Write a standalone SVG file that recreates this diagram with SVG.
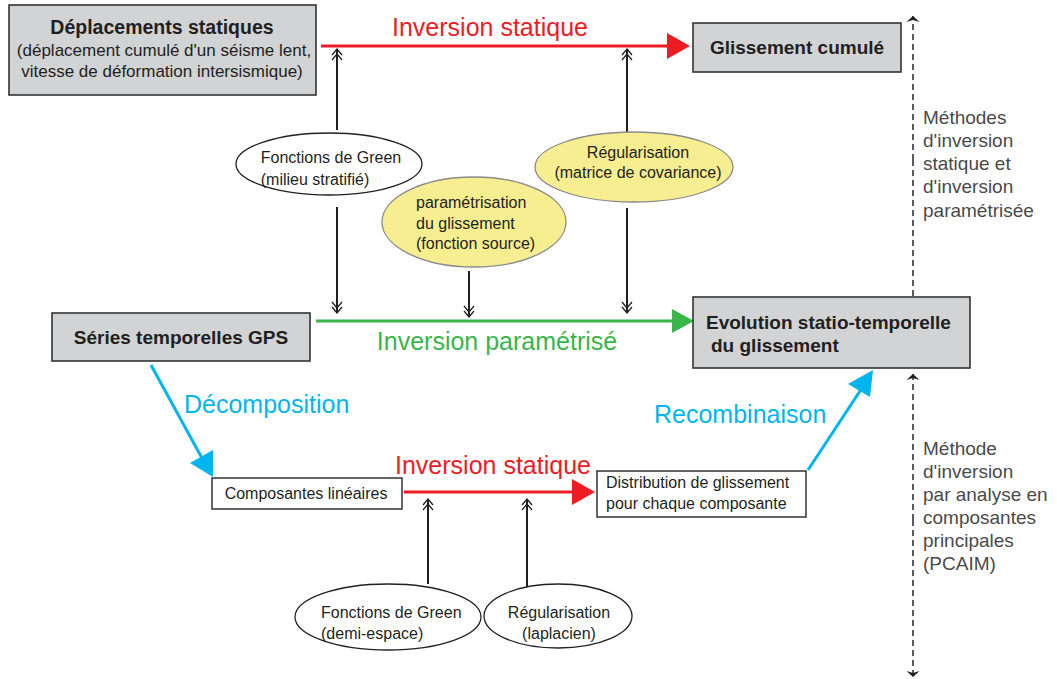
<svg xmlns="http://www.w3.org/2000/svg" width="1057" height="679" viewBox="0 0 1057 679">
<defs>
<style>
.box{fill:#d1d3d4;stroke:#333;stroke-width:1.6}
.wbox{fill:#fff;stroke:#333;stroke-width:1.5}
.ell{fill:#fff;stroke:#231f20;stroke-width:1.3}
.yel{fill:#f6ee90;stroke:#8a8a8a;stroke-width:1.3}
text{font-family:"Liberation Sans",Arial,sans-serif;fill:#231f20}
.b{font-weight:bold;font-size:19px}
.r{font-size:17px}
.s{font-size:16px}
.side{font-size:19px;fill:#4a4a4a}
.big{font-size:25px}
.vl{stroke:#231f20;stroke-width:2;fill:none}
.dash{stroke:#333;stroke-width:1.6;stroke-dasharray:6,4;fill:none}
</style>
<marker id="dch" viewBox="-11 -6 13 12" refX="1" refY="0" markerWidth="13" markerHeight="12" markerUnits="userSpaceOnUse" orient="auto">
<path d="M-5,-5 L1,0 L-5,5 M-10,-5 L-4,0 L-10,5" fill="none" stroke="#231f20" stroke-width="1.3"/>
</marker>
<marker id="sa" viewBox="-7 -7 8 14" refX="0" refY="0" markerWidth="8" markerHeight="14" markerUnits="userSpaceOnUse" orient="auto">
<path d="M0,0 L-6,-6.5 L-4,0 L-6,6.5 Z" fill="#231f20"/>
</marker>
</defs>

<g id="connectors">
<!-- top red -->
<line x1="321" y1="46" x2="668" y2="46" stroke="#ed1c24" stroke-width="3.2"/>
<polygon points="667,33 690,46 667,59" fill="#ed1c24"/>
<!-- green -->
<line x1="316" y1="321" x2="674" y2="321" stroke="#39b54a" stroke-width="3.2"/>
<polygon points="672,309 694,321 672,333" fill="#39b54a"/>
<!-- bottom red -->
<line x1="404" y1="492" x2="574" y2="492" stroke="#ed1c24" stroke-width="3.2"/>
<polygon points="572,479 595,492 572,505" fill="#ed1c24"/>
<!-- cyan decomposition -->
<line x1="151" y1="365" x2="203" y2="460" stroke="#00b5ef" stroke-width="3"/>
<polygon points="213,477 190,463 213,450" fill="#00b5ef"/>
<!-- cyan recombinaison -->
<line x1="808" y1="470" x2="862" y2="388" stroke="#00b5ef" stroke-width="3"/>
<polygon points="873,370 870,397 848,384" fill="#00b5ef"/>
<!-- vertical double-chevron arrows -->
<line class="vl" x1="337" y1="130" x2="337" y2="49" marker-end="url(#dch)"/>
<line class="vl" x1="627" y1="135" x2="627" y2="49" marker-end="url(#dch)"/>
<line class="vl" x1="337" y1="207" x2="337" y2="313" marker-end="url(#dch)"/>
<line class="vl" x1="469" y1="271" x2="469" y2="317" marker-end="url(#dch)"/>
<line class="vl" x1="627" y1="208" x2="627" y2="313" marker-end="url(#dch)"/>
<line class="vl" x1="428" y1="584" x2="428" y2="499" marker-end="url(#dch)"/>
<line class="vl" x1="527" y1="590" x2="527" y2="499" marker-end="url(#dch)"/>
<!-- dashed method ranges -->
<line class="dash" x1="913" y1="160" x2="913" y2="16" marker-end="url(#sa)"/>
<line class="dash" x1="913" y1="160" x2="913" y2="306" marker-end="url(#sa)"/>
<line class="dash" x1="913" y1="520" x2="913" y2="374" marker-end="url(#sa)"/>
<line class="dash" x1="913" y1="520" x2="913" y2="677" marker-end="url(#sa)"/>
<text class="big" x="490" y="36" text-anchor="middle" style="fill:#ed1c24">Inversion statique</text>
<text class="big" x="497" y="350" text-anchor="middle" style="fill:#39b54a">Inversion paramétrisé</text>
<text class="big" x="493" y="474" text-anchor="middle" style="fill:#ed1c24">Inversion statique</text>
<text class="big" x="184" y="413" style="fill:#00b5ef">Décomposition</text>
<text class="big" x="654" y="423" style="fill:#00b5ef">Recombinaison</text>
</g>

<g id="n-deplacements">
<rect class="box" x="9" y="5" width="307" height="90"/>
<text class="b" x="162" y="34" text-anchor="middle" style="font-size:19.5px">Déplacements statiques</text>
<text class="r" x="164" y="56" text-anchor="middle">(déplacement cumulé d'un séisme lent,</text>
<text class="r" x="162" y="77" text-anchor="middle">vitesse de déformation intersismique)</text>
</g>

<g id="n-glissement">
<rect class="box" x="693" y="23" width="208" height="49"/>
<text class="b" x="797" y="54" text-anchor="middle">Glissement cumulé</text>
</g>

<g id="n-series">
<rect class="box" x="52" y="313" width="258" height="48"/>
<text class="b" x="181" y="344" text-anchor="middle">Séries temporelles GPS</text>
</g>

<g id="n-evolution">
<rect class="box" x="693" y="297" width="277" height="71"/>
<text class="b" x="706" y="329">Evolution statio-temporelle</text>
<text class="b" x="711" y="352">du glissement</text>
</g>

<g id="n-green1">
<ellipse class="ell" cx="329" cy="164" rx="93" ry="31"/>
<text class="s" x="331" y="163" text-anchor="middle">Fonctions de Green</text>
<text class="s" x="315" y="185" text-anchor="middle">(milieu stratifié)</text>
</g>

<g id="n-param">
<ellipse class="yel" cx="474" cy="222" rx="92" ry="45"/>
<text class="s" x="416" y="208">paramétrisation</text>
<text class="s" x="416" y="229">du glissement</text>
<text class="s" x="416" y="249">(fonction source)</text>
</g>

<g id="n-regul1">
<ellipse class="yel" cx="634" cy="167" rx="99" ry="35"/>
<text class="s" x="638" y="158" text-anchor="middle">Régularisation</text>
<text class="s" x="638" y="178" text-anchor="middle">(matrice de covariance)</text>
</g>

<g id="n-composantes">
<rect class="wbox" x="212" y="478" width="190" height="31"/>
<text class="s" x="306" y="499" text-anchor="middle">Composantes linéaires</text>
</g>

<g id="n-distribution">
<rect class="wbox" x="597" y="471" width="209" height="46"/>
<text class="s" x="606" y="488">Distribution de glissement</text>
<text class="s" x="606" y="509">pour chaque composante</text>
</g>

<g id="n-green2">
<ellipse class="ell" cx="388" cy="617" rx="93" ry="33"/>
<text class="s" x="321" y="618">Fonctions de Green</text>
<text class="s" x="321" y="639">(demi-espace)</text>
</g>

<g id="n-regul2">
<ellipse class="ell" cx="558" cy="616" rx="74" ry="32"/>
<text class="s" x="559" y="618" text-anchor="middle">Régularisation</text>
<text class="s" x="559" y="639" text-anchor="middle">(laplacien)</text>
</g>

<g id="n-methodes1">
<text class="side" x="923" y="124">Méthodes</text>
<text class="side" x="923" y="147">d'inversion</text>
<text class="side" x="923" y="170">statique et</text>
<text class="side" x="923" y="193">d'inversion</text>
<text class="side" x="923" y="217">paramétrisée</text>
</g>

<g id="n-methodes2">
<text class="side" x="923" y="455">Méthode</text>
<text class="side" x="923" y="478">d'inversion</text>
<text class="side" x="923" y="501">par analyse en</text>
<text class="side" x="923" y="524">composantes</text>
<text class="side" x="923" y="547">principales</text>
<text class="side" x="923" y="570">(PCAIM)</text>
</g>
</svg>
